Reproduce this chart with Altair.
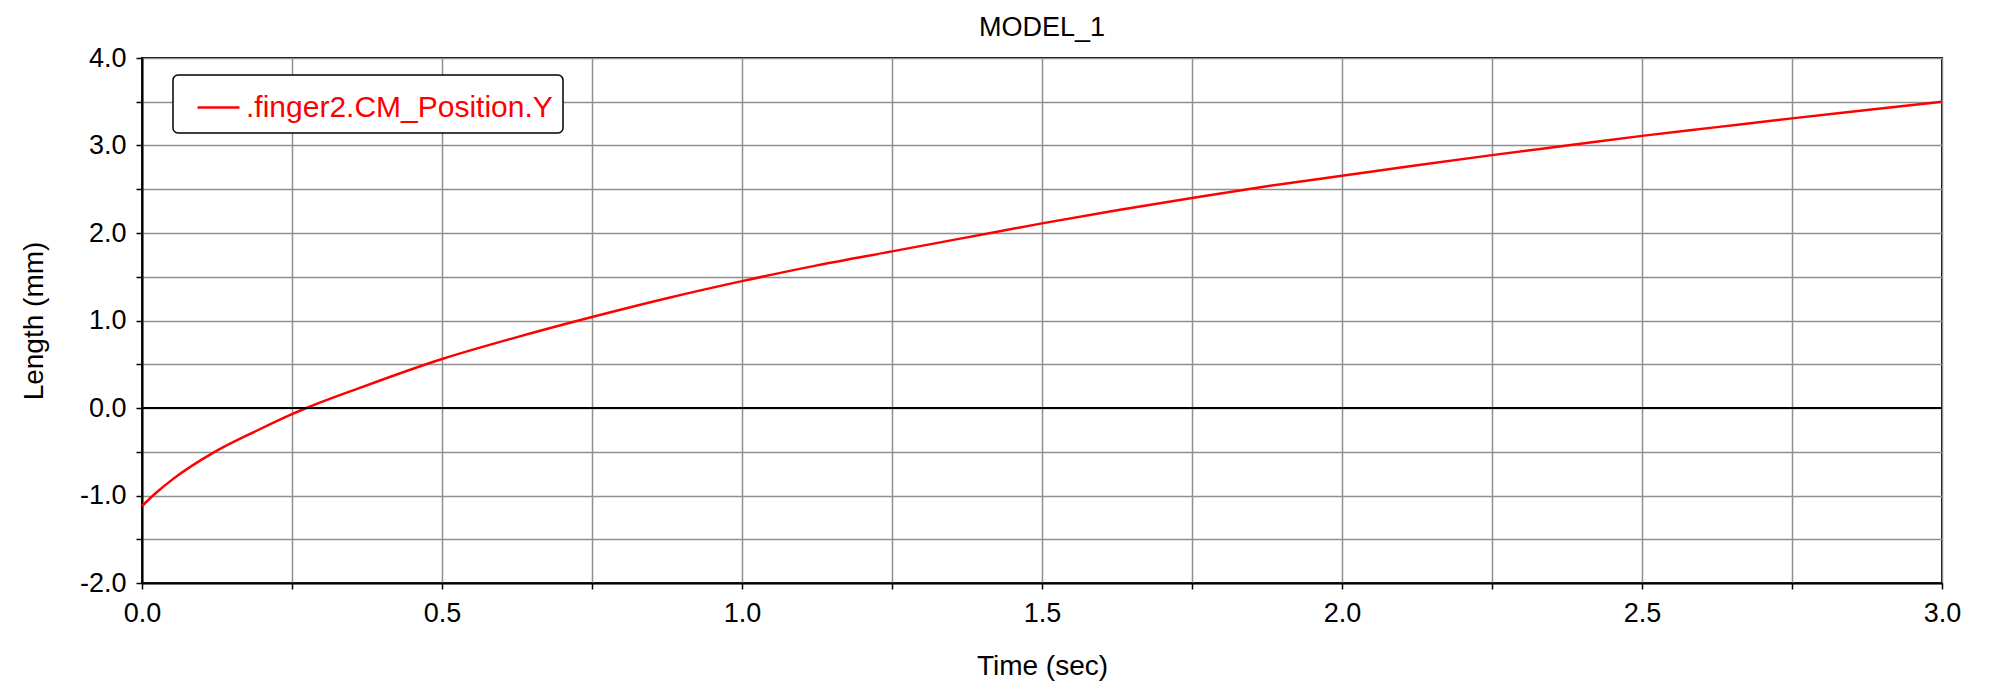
import altair as alt
import pandas as pd

# Data
time_sec = [0.0, 0.025, 0.052, 0.119, 0.191, 0.25, 0.274, 0.369, 0.5, 0.625, 0.75,
            0.875, 1.0, 1.125, 1.25, 1.375, 1.5, 1.625, 1.75, 1.875, 2.0, 2.125,
            2.25, 2.375, 2.5, 2.625, 2.75, 2.875, 3.0]
length_mm = [-1.12, -0.96, -0.81, -0.51, -0.26, -0.07, 0.0, 0.245, 0.56, 0.81, 1.04,
             1.255, 1.45, 1.63, 1.79, 1.95, 2.11, 2.26, 2.40, 2.535, 2.655, 2.775,
             2.89, 3.0, 3.11, 3.21, 3.31, 3.405, 3.5]
series_name = ".finger2.CM_Position.Y"
x_ticks = [0.0, 0.25, 0.5, 0.75, 1.0, 1.25, 1.5, 1.75, 2.0, 2.25, 2.5, 2.75, 3.0]
y_ticks = [-2.0, -1.5, -1.0, -0.5, 0.0, 0.5, 1.0, 1.5, 2.0, 2.5, 3.0, 3.5, 4.0]

df = pd.DataFrame({"t": time_sec, "y": length_mm, "series": [series_name] * len(time_sec)})
zero_df = pd.DataFrame({"y": [0.0]})

FONT = "Liberation Sans"

x_enc = alt.X(
    "t:Q",
    title="Time (sec)",
    scale=alt.Scale(domain=[0, 3], nice=False, zero=False),
    axis=alt.Axis(
        values=x_ticks,
        labelExpr="(round(datum.value*100) % 50 == 0) ? format(datum.value, '.1f') : ''",
        grid=True,
        gridColor="#8f8f8f",
        gridWidth=1.5,
        tickColor="black",
        tickSize=6,
        tickWidth=1.5,
        domainColor="black",
        domainWidth=2,
        labelFontSize=27,
        labelPadding=11,
        labelFont=FONT,
        labelColor="black",
        titleFont=FONT,
        titleFontSize=28,
        titleFontWeight="normal",
        titleColor="black",
        titlePadding=26,
        labelFlush=False,
    ),
)

y_enc = alt.Y(
    "y:Q",
    title="Length (mm)",
    scale=alt.Scale(domain=[-2, 4], nice=False, zero=False),
    axis=alt.Axis(
        values=y_ticks,
        labelExpr="(round(datum.value*10) % 10 == 0) ? (datum.value < 0 ? '-' + format(-datum.value, '.1f') : format(datum.value, '.1f')) : ''",
        grid=True,
        gridColor="#8f8f8f",
        gridWidth=1.5,
        tickColor="black",
        tickSize=6,
        tickWidth=1.5,
        domainColor="black",
        domainWidth=2,
        labelFontSize=27,
        labelPadding=10,
        labelFont=FONT,
        labelColor="black",
        titleFont=FONT,
        titleFontSize=28,
        titleFontWeight="normal",
        titleColor="black",
        titlePadding=31,
        labelFlush=False,
    ),
)

line = alt.Chart(df).mark_line(strokeWidth=2.5, interpolate="monotone").encode(
    x=x_enc,
    y=y_enc,
    color=alt.Color(
        "series:N",
        scale=alt.Scale(domain=[series_name], range=["#ff0000"]),
        legend=alt.Legend(
            title=None,
            orient="none",
            legendX=31,
            legendY=17,
            symbolType="stroke",
            symbolSize=1764,
            symbolStrokeWidth=2.5,
            symbolOffset=13,
            labelFontSize=30,
            labelFont=FONT,
            labelColor="#ff0000",
            labelOffset=5,
            labelLimit=0,
            padding=10,
            strokeColor="black",
            fillColor="white",
            cornerRadius=5,
        ),
    ),
)

zero_rule = alt.Chart(zero_df).mark_rule(color="black", strokeWidth=2).encode(y="y:Q")

chart = (
    alt.layer(line, zero_rule)
    .properties(
        width=1800,
        height=525,
        title=alt.TitleParams(
            "MODEL_1", font=FONT, fontSize=27, fontWeight="normal", color="black",
            anchor="middle", offset=2,
        ),
        autosize=alt.AutoSizeParams(type="none"),
        padding={"left": 134, "top": 50, "right": 50, "bottom": 100},
    )
    .configure_view(stroke="black", strokeWidth=2)
    .configure_legend(strokeWidth=1.5)
)

chart.save("out.html", embed_options={"renderer": "svg", "actions": False})
